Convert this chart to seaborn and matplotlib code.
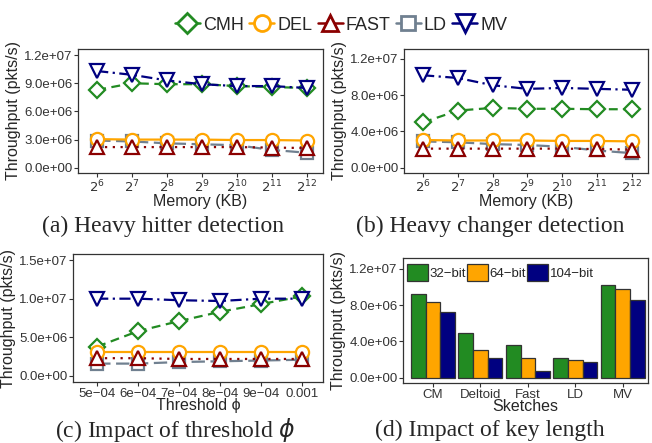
import numpy as np
import pandas as pd
import matplotlib
matplotlib.use("Agg")
import matplotlib.pyplot as plt
from matplotlib.lines import Line2D
import seaborn as sns

sns.set_theme(style="white")
plt.rcParams['font.family'] = ['Liberation Sans', 'DejaVu Sans']

# ---------------- data ----------------
series = ["CMH", "DEL", "FAST", "LD", "MV"]
mem_log2 = [6, 7, 8, 9, 10, 11, 12]
hh_cmh = [8.3e6, 9.0e6, 8.9e6, 8.9e6, 8.7e6, 8.6e6, 8.5e6]
hh_del = [3.05e6, 3.0e6, 3.0e6, 3.0e6, 2.95e6, 2.95e6, 2.9e6]
hh_fast = [2.2e6, 2.2e6, 2.2e6, 2.2e6, 2.2e6, 2.15e6, 2.1e6]
hh_ld = [2.9e6, 2.8e6, 2.6e6, 2.5e6, 2.4e6, 1.9e6, 1.6e6]
hh_mv = [1.03e7, 9.9e6, 9.3e6, 8.9e6, 8.7e6, 8.7e6, 8.5e6]

hc_cmh = [5.0e6, 6.3e6, 6.6e6, 6.5e6, 6.5e6, 6.45e6, 6.45e6]
hc_del = [3.05e6, 3.0e6, 3.0e6, 3.0e6, 2.95e6, 2.95e6, 2.9e6]
hc_fast = [2.1e6, 2.1e6, 2.1e6, 2.1e6, 2.1e6, 2.05e6, 2.0e6]
hc_ld = [2.9e6, 2.8e6, 2.6e6, 2.5e6, 2.3e6, 1.9e6, 1.6e6]
hc_mv = [1.02e7, 9.9e6, 9.1e6, 8.7e6, 8.8e6, 8.7e6, 8.6e6]

thresholds = [5e-4, 6e-4, 7e-4, 8e-4, 9e-4, 1e-3]
th_labels = ["5e\u221204", "6e\u221204", "7e\u221204", "8e\u221204", "9e\u221204", "0.001"]
th_cmh = [3.8e6, 5.8e6, 7.1e6, 8.3e6, 9.3e6, 1.03e7]
th_del = [3.1e6, 3.1e6, 3.1e6, 3.1e6, 3.1e6, 3.1e6]
th_fast = [2.3e6, 2.3e6, 2.2e6, 2.2e6, 2.2e6, 2.2e6]
th_ld = [1.6e6, 1.6e6, 1.8e6, 1.9e6, 2.0e6, 2.1e6]
th_mv = [1.0e7, 1.0e7, 9.8e6, 9.7e6, 1.0e7, 1.0e7]

sketches = ["CM", "Deltoid", "Fast", "LD", "MV"]
key_lengths = ["32\u2212bit", "64\u2212bit", "104\u2212bit"]
kl_32 = [9.2e6, 4.93e6, 3.65e6, 2.14e6, 1.02e7]
kl_64 = [8.3e6, 3.06e6, 2.14e6, 1.95e6, 9.75e6]
kl_104 = [7.3e6, 2.2e6, 0.77e6, 1.73e6, 8.6e6]

# ---------------- styles ----------------
colors = {"CMH": "#228B22", "DEL": "#FFA500", "FAST": "#8B0000", "LD": "#708090", "MV": "#000080"}
markers = {"CMH": "D", "DEL": "o", "FAST": "^", "LD": "s", "MV": "v"}
msizes = {"CMH": 8, "DEL": 9.5, "FAST": 10, "LD": 8, "MV": 10.5}
dash_pat = {"CMH": (4, 2.5), "DEL": None, "FAST": (1, 2.5), "LD": (6, 2.5), "MV": (5, 2, 1, 2)}
bar_colors = ["#228B22", "#FFA500", "#000080"]

W, H = 652, 443
fig = plt.figure(figsize=(W / 100, H / 100), dpi=100)


def ax_at(l, r, t, b):
    return fig.add_axes([l / W, 1 - b / H, (r - l) / W, (b - t) / H])


tick_col = "#333333"
TICK_FS = 9.5
LAB_FS = 11.5


def style_ax(ax):
    for s in ax.spines.values():
        s.set_visible(True)
        s.set_color("#333333")
        s.set_linewidth(0.9)
    ax.tick_params(axis="both", which="both", direction="out", length=3, width=0.8,
                   color="#333333", labelsize=TICK_FS, labelcolor=tick_col, pad=1.0,
                   bottom=True, left=True)
    ax.grid(False)


def draw_lines(ax, x, data):
    order = ["LD", "CMH", "DEL", "FAST", "MV"]
    for name in order:
        df = pd.DataFrame({"x": x, "y": data[name]})
        sns.lineplot(data=df, x="x", y="y", ax=ax, color=colors[name], marker=markers[name],
                     markersize=msizes[name], markerfacecolor="white",
                     markeredgecolor=colors[name], markeredgewidth=1.6, linewidth=1.6,
                     legend=False)
        line = ax.lines[-1]
        if dash_pat[name] is None:
            line.set_linestyle("-")
        else:
            line.set_linestyle((0, dash_pat[name]))


def yfmt(vals):
    out = []
    for v in vals:
        if v == 0:
            out.append("0.0e+00")
        else:
            e = int(np.floor(np.log10(v)))
            out.append("%.1fe+%02d" % (v / 10 ** e, e))
    return out


def setup_y(ax, ticks, lim):
    ax.set_ylim(*lim)
    ax.set_yticks(ticks)
    ax.set_yticklabels(yfmt(ticks))
    ax.set_ylabel("Throughput (pkts/s)", fontsize=LAB_FS, labelpad=2)


# (a)
axa = ax_at(78, 323, 49, 173)
draw_lines(axa, mem_log2, {"CMH": hh_cmh, "DEL": hh_del, "FAST": hh_fast, "LD": hh_ld, "MV": hh_mv})
setup_y(axa, [0, 3e6, 6e6, 9e6, 1.2e7], (-0.56e6, 1.265e7))
axa.set_xlim(5.45, 12.47)
axa.set_xticks(mem_log2)
axa.set_xticklabels([r"$2^{%d}$" % m for m in mem_log2])
axa.set_xlabel("Memory (KB)", fontsize=LAB_FS, labelpad=-1)
style_ax(axa)

# (b)
axb = ax_at(404, 648, 49, 173)
draw_lines(axb, mem_log2, {"CMH": hc_cmh, "DEL": hc_del, "FAST": hc_fast, "LD": hc_ld, "MV": hc_mv})
setup_y(axb, [0, 4e6, 8e6, 1.2e7], (-0.59e6, 1.31e7))
axb.set_xlim(5.45, 12.47)
axb.set_xticks(mem_log2)
axb.set_xticklabels([r"$2^{%d}$" % m for m in mem_log2])
axb.set_xlabel("Memory (KB)", fontsize=LAB_FS, labelpad=-1)
style_ax(axb)

# (c)
axc = ax_at(73, 323, 254, 382)
draw_lines(axc, thresholds, {"CMH": th_cmh, "DEL": th_del, "FAST": th_fast, "LD": th_ld, "MV": th_mv})
setup_y(axc, [0, 5e6, 1e7, 1.5e7], (-0.78e6, 1.578e7))
axc.set_xlim(4.41e-4, 1.051e-3)
axc.set_xticks(thresholds)
axc.set_xticklabels(th_labels)
axc.set_xlabel("Threshold \u03d5", fontsize=LAB_FS, labelpad=-1)
style_ax(axc)

# (d)
axd = ax_at(403, 648, 258, 383)
bdf = pd.DataFrame({
    "Sketch": np.repeat(sketches, 3),
    "Key": key_lengths * len(sketches),
    "Throughput": np.ravel(np.column_stack([kl_32, kl_64, kl_104])),
})
sns.barplot(data=bdf, x="Sketch", y="Throughput", hue="Key", order=sketches,
            hue_order=key_lengths, palette=bar_colors, width=0.93, ax=axd,
            edgecolor="#333333", linewidth=0.9, saturation=1)
setup_y(axd, [0, 4e6, 8e6, 1.2e7], (-0.59e6, 1.321e7))
axd.set_xlim(-0.63, 4.53)
axd.set_xlabel("Sketches", fontsize=LAB_FS, labelpad=-1)
style_ax(axd)
axd.legend(loc="upper left", ncol=3, frameon=False, fontsize=9.5,
           handlelength=1.6, handleheight=1.6, handletextpad=0.1,
           columnspacing=0.1, borderaxespad=0.15, bbox_to_anchor=(-0.015, 1.01))

# top legend
handles = []
for name in series:
    h = Line2D([0], [0], color=colors[name], marker=markers[name], markersize=msizes[name] + 2,
               markerfacecolor="white", markeredgecolor=colors[name], markeredgewidth=2.0,
               linewidth=1.8, linestyle="-")
    handles.append(h)
fig.legend(handles, series, loc="center", bbox_to_anchor=(341 / W, 1 - 25 / H), ncol=5,
           frameon=False, fontsize=13, handlelength=1.4, handletextpad=0.15,
           columnspacing=0.3)

# captions
cap_font = ['Liberation Serif', 'DejaVu Serif']
CAP_FS = 17
fig.text(163 / W, 1 - 226 / H, "(a) Heavy hitter detection", ha="center", va="center",
         fontsize=CAP_FS, family=cap_font)
fig.text(490 / W, 1 - 226 / H, "(b) Heavy changer detection", ha="center", va="center",
         fontsize=CAP_FS, family=cap_font)
fig.text(175 / W, 1 - 430 / H, "(c) Impact of threshold $\\phi$", ha="center", va="center",
         fontsize=CAP_FS, family=cap_font)
fig.text(490 / W, 1 - 430 / H, "(d) Impact of key length", ha="center", va="center",
         fontsize=CAP_FS, family=cap_font)

fig.savefig("out.png", dpi=100)
